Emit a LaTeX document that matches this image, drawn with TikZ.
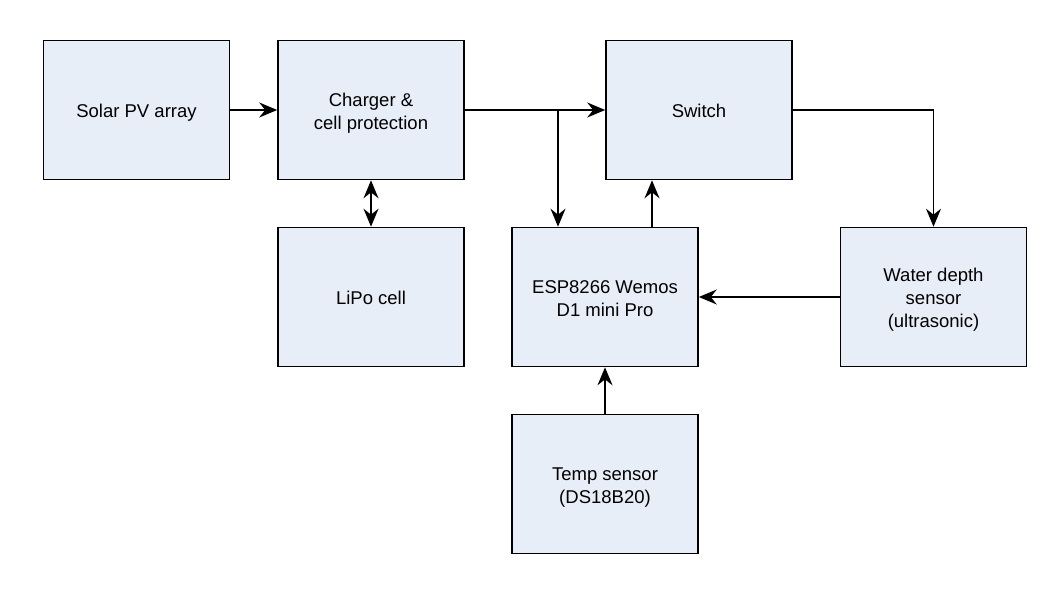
\documentclass[tikz,border=0pt]{standalone}
\usepackage{fontspec}
\setmainfont{Liberation Sans}
\usetikzlibrary{arrows.meta,positioning}
\definecolor{boxfill}{RGB}{232,238,247}
\newcommand{\boxtext}[1]{\raisebox{-3pt}[\height][\depth]{\begin{tabular}{@{}c@{}}#1\end{tabular}}}
\begin{document}
\begin{tikzpicture}[x=1pt,y=-1pt,
  box/.style={draw=black, fill=boxfill, line width=1.6pt, minimum width=186pt, minimum height=139pt,
    inner sep=2pt, font=\fontsize{18.5}{23}\selectfont},
  tip/.tip={Stealth[length=18pt,width=15pt,inset=6pt]},
  arr/.style={line width=1.4pt, -tip},
  darr/.style={line width=1.4pt, tip-tip}]
\useasboundingbox[fill=white] (0,0) rectangle (1061,605);
\node[box] (solar) at (136.5,110) {\boxtext{Solar PV array}};
\node[box] (charger) at (371,110) {\boxtext{Charger \&\\cell protection}};
\node[box] (switch) at (699,110) {\boxtext{Switch}};
\node[box] (lipo) at (371,297) {\boxtext{LiPo cell}};
\node[box] (esp) at (605,297) {\boxtext{ESP8266 Wemos\\D1 mini Pro}};
\node[box] (water) at (933.5,297) {\boxtext{Water depth\\sensor\\(ultrasonic)}};
\node[box] (temp) at (605,484) {\boxtext{Temp sensor\\(DS18B20)}};
\draw[arr] (solar) -- (charger);
\draw[darr] (charger) -- (lipo);
\draw[arr] (charger.east) -- (switch.west);
\draw[arr] (charger.east) -| ([xshift=-47pt]esp.north);
\draw[arr] ([xshift=47pt]esp.north) -- ([xshift=-47pt]switch.south);
\draw[arr] (switch.east) -| (water.north);
\draw[arr] (water.west) -- (esp.east);
\draw[arr] (temp.north) -- (esp.south);
\end{tikzpicture}
\end{document}
